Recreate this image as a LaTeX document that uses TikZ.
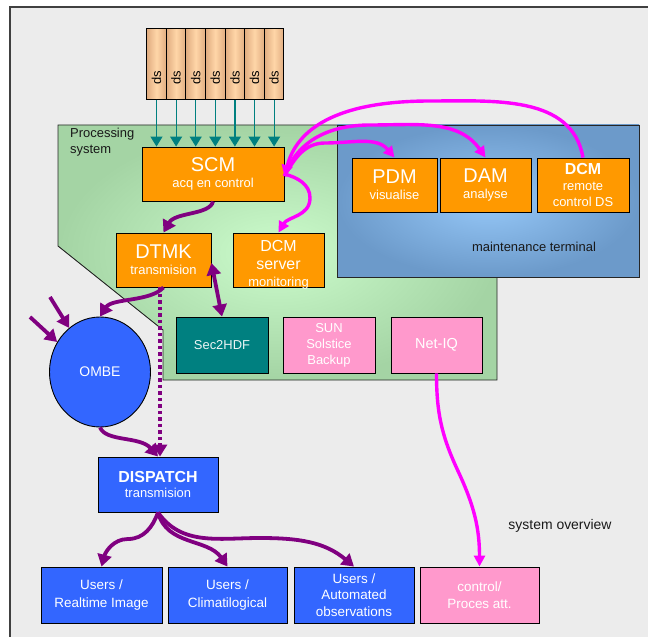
\documentclass[tikz,border=0pt]{standalone}
\usepackage{fontspec}
\setmainfont{Liberation Sans}
\usetikzlibrary{arrows.meta,shapes.geometric}
\definecolor{bgc}{HTML}{ECECEC}
\definecolor{orng}{HTML}{FF9900}
\definecolor{mag}{HTML}{FF00FF}
\definecolor{purp}{HTML}{800080}
\definecolor{tealc}{HTML}{008080}
\definecolor{blu}{HTML}{3366FF}
\definecolor{pnk}{HTML}{FF99CC}
\definecolor{grin}{HTML}{CCFCCC}
\definecolor{grout}{HTML}{A4D4A4}
\definecolor{bluin}{HTML}{96C8F8}
\definecolor{bluout}{HTML}{6C9ACA}
\definecolor{dsin}{HTML}{FFD6A8}
\definecolor{dsout}{HTML}{E0AC80}
\newcommand\fsL{\fontsize{20}{22}\selectfont}
\newcommand\fsM{\fontsize{16}{18}\selectfont}
\newcommand\fsS{\fontsize{13}{16}\selectfont}
\tikzset{
  box/.style={draw=black, line width=0.9bp, inner sep=0pt, align=center, text=white, font=\fsS},
  obox/.style={box, fill=orng, minimum height=54bp},
  bbox/.style={box, fill=blu},
  pbox/.style={box, fill=pnk},
  dsbox/.style={draw=black, line width=0.9bp, left color=dsout, right color=dsout, middle color=dsin,
    minimum width=19.6bp, minimum height=71bp, inner sep=0pt},
  tarr/.style={draw=tealc, line width=1.2bp, -{Triangle[length=10bp,width=12bp]}},
  marr/.style={draw=mag, line width=3.4bp, -{Triangle[length=11bp,width=11bp]}},
  parr/.style={draw=purp, line width=3.8bp, -{Triangle[length=12bp,width=14bp]}},
  lbl/.style={text=black!90, font=\fsS, inner sep=0pt}
}
\begin{document}
\begin{tikzpicture}[x=1bp,y=-1bp]
\useasboundingbox (0,0) rectangle (648,637);
% background
\fill[white] (0,0) rectangle (648,637);
\fill[bgc] (10,7) rectangle (660,650);
\draw[line width=1.6bp, black!75] (10,650) -- (10,7) -- (660,7);
% processing system area
\shade[inner color=grin, outer color=grout] (58,125) -- (497,125) -- (497,380) -- (163,380) -- (163,330) -- (58,246) -- cycle;
\draw[line width=0.9bp, black!85] (58,125) -- (497,125) -- (497,380) -- (163,380) -- (163,330) -- (58,246) -- cycle;
\node[lbl, anchor=north west, align=left] (proc) at (70,128) {Processing\\system};
% maintenance terminal
\node[draw=black!85, line width=0.9bp, inner color=bluin, outer color=bluout, minimum width=302bp, minimum height=152bp, inner sep=0pt] (maint) at (488,201) {};
\node[lbl] (maintlbl) at (534,247) {maintenance terminal};
% ds boxes
\foreach \i/\x in {1/156.5,2/176.1,3/195.7,4/215.3,5/234.9,6/254.5,7/274.1}{
  \node[dsbox] (ds\i) at (\x,63.8) {};
  \node[rotate=90, font=\fsS, text=black, inner sep=0pt] (dslbl\i) at (\x,78) {ds};
}
% boxes
\node[obox, minimum width=142bp] (scm) at (213,174) {{\fsL SCM}\\{\fsS acq en control}};
\node[obox, minimum width=95bp] (dtmk) at (163.5,260) {{\fsL DTMK}\\{\fsS transmision}};
\node[obox, minimum width=91bp] (dcmsrv) at (278.5,260) {};
\node[align=center, text=white, inner sep=0pt, font=\fsS] (dcmsrvtxt) at (278.5,264.5) {{\fsM DCM}\\[3bp]{\fsM server}\\[0.5bp]{\fsS monitoring}};
\node[obox, minimum width=85bp] (pdm) at (394.5,185) {{\fsL PDM}\\{\fsS visualise}};
\node[obox, minimum width=91bp] (dam) at (485.5,185) {{\fsL DAM}\\{\fsS analyse}};
\node[obox, minimum width=92bp] (dcmr) at (583,185) {{\fsM\bfseries DCM}\\{\fsS remote}\\{\fsS control DS}};
\node[box, fill=tealc, text=white!92!tealc, minimum width=92bp, minimum height=56bp] (sec) at (222,345) {Sec2HDF};
\node[pbox, minimum width=92bp, minimum height=56bp] (sun) at (329,345) {SUN\\Solstice\\Backup};
\node[pbox, minimum width=91bp, minimum height=56bp, font=\fontsize{14.5}{16}\selectfont] (netiq) at (436.5,345) {Net-IQ};
\node[ellipse, draw=black, line width=0.9bp, fill=blu, minimum width=101bp, minimum height=110bp, inner sep=0pt, text=white, font=\fontsize{14}{16}\selectfont] (ombe) at (100,372) {OMBE};
\node[bbox, minimum width=120bp, minimum height=55bp] (disp) at (158,484.5) {{\fsM\bfseries DISPATCH}\\{\fsS transmision}};
\node[bbox, minimum width=121bp, minimum height=56bp, font=\fontsize{13.5}{17.5}\selectfont] (rt) at (101.5,595) {Users /\\Realtime Image};
\node[bbox, minimum width=119bp, minimum height=56bp, font=\fontsize{13.5}{17.5}\selectfont] (clim) at (227.5,595) {Users /\\Climatilogical};
\node[bbox, minimum width=120bp, minimum height=56bp, font=\fontsize{13.5}{16.5}\selectfont] (auto) at (354,595) {Users /\\Automated\\observations};
\node[pbox, minimum width=119bp, minimum height=56bp, font=\fontsize{13.5}{17.5}\selectfont] (ctrl) at (479.5,595) {control/\\Proces att.};
\node[lbl, font=\fontsize{14}{16}\selectfont] (sysov) at (560,526) {system overview};
% teal arrows
\foreach \i in {1,...,7}{ \draw[tarr] (ds\i.south) -- (ds\i.south |- scm.north); }
% magenta connectors
\draw[marr] ([yshift=-2bp]scm.east) to[out=60,in=180] (325,143) to[out=0,in=130] (pdm.north);
\draw[marr] ([yshift=-2bp]scm.east) to[out=70,in=180] (370,125) to[out=0,in=125] (dam.north);
\draw[marr] (dcmr.north) to[out=100,in=0] (430,101) to[out=180,in=75] ([yshift=-2bp]scm.east);
\draw[marr] (scm.east) to[out=-15,in=90] (310,198) to[out=-90,in=60] (dcmsrv.north);
\draw[marr] (netiq.south) to[out=-90,in=115] (458,471) to[out=-65,in=90] (ctrl.north);
% purple connectors
\draw[parr] (scm.south) .. controls (210,215) and (175,212) .. (dtmk.north);
\draw[parr, {Triangle[length=12bp,width=14bp]}-{Triangle[length=12bp,width=14bp]}] ([yshift=-3bp]dtmk.east) -- (sec.north);
\draw[parr] (dtmk.south) .. controls (150,302) and (112,298) .. (ombe.north);
\draw[parr, dash pattern=on 3.5bp off 3bp] ([xshift=-3.5bp]dtmk.south) -- ([xshift=-3.5bp]dtmk.south |- disp.north);
\draw[parr] (ombe.south) .. controls (106,442) and (140,436) .. (disp.north);
\coordinate (in1) at (50,297);
\coordinate (in2) at (30,317);
\draw[parr] (in1) -- (ombe.125);
\draw[parr] (in2) -- (ombe.145);
\draw[parr] (disp.south) to[out=-110,in=0] (128,539) to[out=180,in=75] (rt.north);
\draw[parr] (disp.south) to[out=-75,in=125] (clim.north);
\draw[parr] (disp.south) to[out=-55,in=180] (260,538) to[out=0,in=140] (auto.north);
\end{tikzpicture}
\end{document}
